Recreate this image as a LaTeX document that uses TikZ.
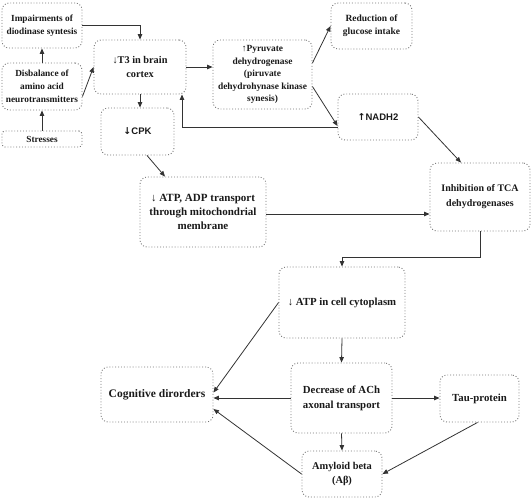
\documentclass[tikz,border=0pt]{standalone}
\usepackage{fontspec}
\setmainfont{Liberation Serif}
\newfontfamily\sansf{Liberation Sans}
\newfontfamily\arrf{DejaVu Sans}
\usetikzlibrary{arrows.meta}
\begin{document}
\begin{tikzpicture}[x=1pt,y=-1pt,
  box/.style={draw=black!55, dotted, line width=0.9pt, rounded corners=7pt, align=center,
    font=\bfseries\fontsize{9.3}{13}\selectfont, inner sep=1pt, text=black!90},
  arr/.style={-{Triangle[length=5.5pt,width=4.5pt]}, draw=black!80, line width=0.8pt}]
\useasboundingbox (0,0) rectangle (532,499);
\node[box, minimum width=80pt, minimum height=45pt] (imp) at (42,25.5) {Impairments of\\diodinase syntesis};
\node[box, minimum width=80pt, minimum height=47pt] (dis) at (42,86.5) {Disbalance of\\amino acid\\neurotransmitters};
\node[box, minimum width=80pt, minimum height=16pt, rounded corners=3pt] (str) at (42,139) {Stresses};
\node[box, minimum width=92pt, minimum height=54pt, font=\bfseries\fontsize{10.3}{14}\selectfont] (t3) at (140,67) {↓T3 in brain\\cortex};
\node[box, minimum width=73pt, minimum height=47pt, font=\sansf\bfseries\fontsize{9.5}{11}\selectfont] (cpk) at (137.5,131.5) {{\arrf\bfseries ↓}CPK};
\node[box, minimum width=99pt, minimum height=69pt, font=\bfseries\fontsize{9.4}{12.5}\selectfont] (pyr) at (262.5,74.5) {↑Pyruvate\\dehydrogenase\\(piruvate\\dehydrohynase kinase\\synesis)};
\node[box, minimum width=81pt, minimum height=46pt, font=\bfseries\fontsize{9.5}{13}\selectfont] (red) at (371.5,26) {Reduction of\\glucose intake};
\node[box, minimum width=80pt, minimum height=46pt, font=\sansf\bfseries\fontsize{9.5}{11}\selectfont] (nadh) at (378,117) {{\arrf\bfseries ↑}NADH2};
\node[box, minimum width=126pt, minimum height=70pt, font=\bfseries\fontsize{11}{14}\selectfont] (adp) at (203,212) {↓ ATP, ADP transport\\through mitochondrial\\membrane};
\node[box, minimum width=100pt, minimum height=68pt, font=\bfseries\fontsize{10}{15}\selectfont] (tca) at (480,197) {Inhibition of TCA\\dehydrogenases};
\node[box, minimum width=126pt, minimum height=71pt, font=\bfseries\fontsize{10.8}{13}\selectfont] (cyto) at (342,302.5) {↓ ATP in cell cytoplasm};
\node[box, minimum width=112pt, minimum height=55pt, font=\bfseries\fontsize{11.5}{13}\selectfont] (cog) at (157,394.5) {Cognitive dirorders};
\node[box, minimum width=101pt, minimum height=70pt, font=\bfseries\fontsize{10.8}{15}\selectfont] (ach) at (341.5,398) {Decrease of ACh\\axonal transport};
\node[box, minimum width=79pt, minimum height=47pt, font=\bfseries\fontsize{10.8}{13}\selectfont] (tau) at (479.5,398.5) {Tau-protein};
\node[box, minimum width=80pt, minimum height=46pt, font=\bfseries\fontsize{10.4}{14.5}\selectfont] (amy) at (342,474) {Amyloid beta\\(Aβ)};

\draw[arr] (imp.east) -| (t3.north);
\draw[arr] (dis.north) -- (imp.south);
\draw[arr] (str.north) -- (dis.south);
\draw[arr] ([yshift=-10pt]dis.east) -- (t3.west);
\draw[arr] (t3.east) -- (t3.east -| pyr.west);
\draw[arr] (t3.south) -- (t3.south |- cpk.north);
\draw[arr] ([yshift=-10pt]nadh.west) -| ([xshift=42pt]t3.south);
\draw[arr] ([yshift=11.5pt]pyr.east) -- (red.west);
\draw[arr] ([yshift=-12pt]pyr.east) -- ([yshift=-9pt]nadh.west);
\draw[arr] (nadh.east) -- ([xshift=-19pt]tca.north);
\draw[arr] ([xshift=9.5pt]cpk.south) -- ([xshift=-38pt]adp.north);
\draw[arr] ([yshift=-2pt]adp.east) -- ([yshift=-2pt]adp.east -| tca.west);
\draw[arr] (tca.south) -- ++(0,26) -| (cyto.north);
\draw[arr] (cyto.west) -- ([yshift=2pt]cog.east);
\draw[arr] (cyto.south) -- (ach.north);
\draw[arr] (ach.west) -- (ach.west -| cog.east);
\draw[arr] (ach.east) -- (ach.east -| tau.west);
\draw[arr] (ach.south) -- (amy.north);
\draw[arr] ([xshift=-2pt]tau.south) -- (amy.east);
\draw[arr] (amy.west) -- ([yshift=-14.5pt]cog.east);
\end{tikzpicture}
\end{document}
